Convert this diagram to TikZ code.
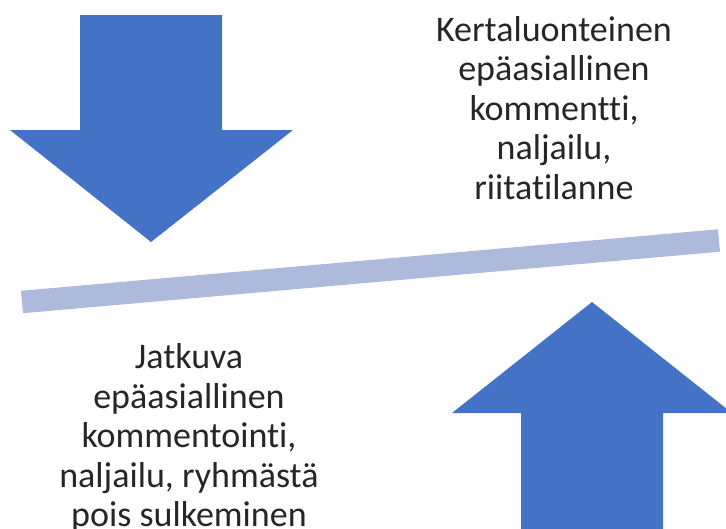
\documentclass[tikz,border=0pt]{standalone}
\usepackage{fontspec}
\setmainfont{Carlito}[Ligatures=NoCommon]
\definecolor{arrowblue}{HTML}{4472C4}
\definecolor{barblue}{HTML}{AEBADB}

\begin{document}
\begin{tikzpicture}[x=1pt,y=-1pt,
    label text/.style={align=center, inner sep=0pt, text=black!85,
      font=\fontsize{36}{39.5}\selectfont}]
  \useasboundingbox (0,0) rectangle (726,528);
  \clip (0,0) rectangle (726,528);

  % Down arrow (top left)
  \fill[arrowblue] (80,15) -- (222,15) -- (222,130) -- (293,130) -- (151,242)
    -- (10,130) -- (80,130) -- cycle;

  % Up arrow (bottom right)
  \fill[arrowblue] (521,530) -- (521,413) -- (452,413) -- (592,302)
    -- (732,413) -- (663,413) -- (663,530) -- cycle;

  % Tilted bar
  \draw[barblue, line width=22.5pt] (22,302) -- (719,240.5);

  % Texts
  \node[label text] (kerta) at (554,108)
    {Kertaluonteinen\\epäasiallinen\\kommentti,\\naljailu,\\riitatilanne};
  \node[label text] (jatkuva) at (189,438)
    {Jatkuva\\epäasiallinen\\kommentointi,\\naljailu, ryhmästä\\pois sulkeminen};
\end{tikzpicture}
\end{document}
